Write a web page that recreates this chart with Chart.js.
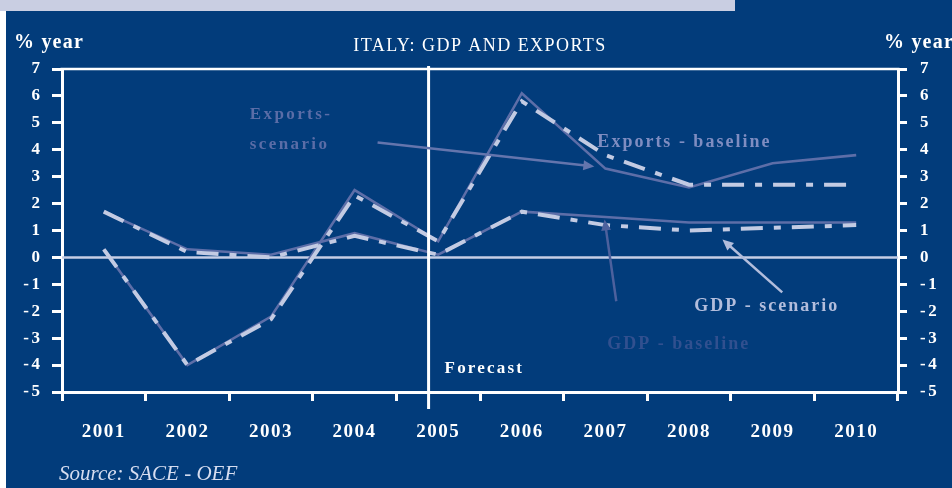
<!DOCTYPE html>
<html>
<head>
<meta charset="utf-8">
<script src="https://cdn.jsdelivr.net/npm/chart.js@4/dist/chart.umd.min.js"></script>
<style>
  html, body { margin: 0; padding: 0; background: #ffffff; }
  #wrap { position: relative; width: 952px; height: 488px; }
  canvas { display: block; }
</style>
</head>
<body>
<div id="wrap"><canvas id="c" width="952" height="488"></canvas></div>
<script>
// Italy: GDP and exports, % change per year
const years = ['2001', '2002', '2003', '2004', '2005', '2006', '2007', '2008', '2009', '2010'];
const exportsScenario = [0.3, -4.0, -2.2, 2.5, 0.6, 6.1, 3.3, 2.6, 3.5, 3.8];
const exportsBaseline = [0.3, -4.0, -2.3, 2.3, 0.6, 5.8, 3.8, 2.7, 2.7, 2.7];
const gdpBaseline = [1.7, 0.3, 0.1, 0.9, 0.1, 1.7, 1.5, 1.3, 1.3, 1.3];
const gdpScenario = [1.7, 0.2, 0.0, 0.8, 0.1, 1.7, 1.2, 1.0, 1.1, 1.2];
const yTicks = [-5, -4, -3, -2, -1, 0, 1, 2, 3, 4, 5, 6, 7];

const SERIF = '"Liberation Serif", "Times New Roman", serif';
const BG = '#023c7b';
const SOLID = '#5d6ea8';
const DASHED = '#c3cbe3';
const DASH = [22, 11, 7, 11];

// Annotation anchors in chart units: [category index, value]
const notes = {
  forecastAt: 3.885,
  texts: [
    { t: 'Exports-', at: [1.746, 5.16], color: '#5b6da7', size: 17, ls: 2.4 },
    { t: 'scenario', at: [1.746, 4.04], color: '#5b6da7', size: 17, ls: 2.4 },
    { t: 'Exports - baseline', at: [5.904, 4.12], color: '#7f8dc1', size: 18, ls: 2 },
    { t: 'GDP - scenario', at: [7.063, -1.99], color: '#b3bddc', size: 18, ls: 2 },
    { t: 'GDP - baseline', at: [6.023, -3.41], color: '#31508f', size: 18, ls: 2 },
    { t: 'Forecast', at: [4.076, -4.30], color: '#ffffff', size: 17, ls: 2.2 }
  ],
  arrows: [
    { from: [3.275, 4.27], to: [5.868, 3.38], color: '#6475ad', w: 2.5 },
    { from: [6.13, -1.63], to: [5.99, 1.41], color: '#4d619d', w: 2.5 },
    { from: [8.115, -1.30], to: [7.40, 0.67], color: '#b2bddc', w: 2.5 }
  ]
};

function drawArrow(ctx, x1, y1, x2, y2, color, w) {
  const a = Math.atan2(y2 - y1, x2 - x1);
  const head = 11, half = 5;
  ctx.save();
  ctx.strokeStyle = color;
  ctx.fillStyle = color;
  ctx.lineWidth = w;
  ctx.beginPath();
  ctx.moveTo(x1, y1);
  ctx.lineTo(x2 - head * 0.8 * Math.cos(a), y2 - head * 0.8 * Math.sin(a));
  ctx.stroke();
  const bx = x2 - head * Math.cos(a), by = y2 - head * Math.sin(a);
  ctx.beginPath();
  ctx.moveTo(x2, y2);
  ctx.lineTo(bx + half * Math.sin(a), by - half * Math.cos(a));
  ctx.lineTo(bx - half * Math.sin(a), by + half * Math.cos(a));
  ctx.closePath();
  ctx.fill();
  ctx.restore();
}

function text(ctx, t, x, y, font, color, ls, align) {
  ctx.save();
  ctx.font = font;
  ctx.fillStyle = color;
  ctx.letterSpacing = (ls || 0) + 'px';
  ctx.textAlign = align || 'left';
  ctx.textBaseline = 'alphabetic';
  ctx.fillText(t, x, y);
  ctx.restore();
}

// per-axis letter spacing for tick labels
function spaceLabels(scale, ls) {
  if (scale._spaced) return;
  const orig = scale.drawLabels.bind(scale);
  scale.drawLabels = function (area) {
    const ctx = this.ctx;
    const prev = ctx.letterSpacing;
    ctx.letterSpacing = ls;
    orig(area);
    ctx.letterSpacing = prev;
  };
  scale._spaced = true;
}

const decor = {
  id: 'decor',
  afterLayout(chart) {
    spaceLabels(chart.scales.x, '1.5px');
    spaceLabels(chart.scales.y, '2.5px');
    spaceLabels(chart.scales.y2, '2.5px');
  },
  beforeDraw(chart) {
    const ctx = chart.ctx;
    ctx.save();
    ctx.fillStyle = '#ffffff';
    ctx.fillRect(0, 0, chart.width, chart.height);
    ctx.fillStyle = BG;
    ctx.fillRect(6, 0, chart.width - 6, chart.height);
    ctx.fillStyle = '#c9cee2';
    ctx.fillRect(0, 0, 735, 11);
    ctx.restore();
  },
  beforeDatasetsDraw(chart) {
    const ctx = chart.ctx, a = chart.chartArea, y = chart.scales.y;
    const y0 = y.getPixelForValue(0);
    ctx.save();
    ctx.strokeStyle = '#c6cee6';
    ctx.lineWidth = 2.5;
    ctx.beginPath();
    ctx.moveTo(a.left, y0);
    ctx.lineTo(a.right, y0);
    ctx.stroke();
    ctx.restore();
  },
  afterDraw(chart) {
    const ctx = chart.ctx, a = chart.chartArea, sx = chart.scales.x, sy = chart.scales.y;
    ctx.save();
    // top frame line
    ctx.strokeStyle = '#ffffff';
    ctx.lineWidth = 2.5;
    ctx.beginPath();
    ctx.moveTo(a.left - 1.5, a.top);
    ctx.lineTo(a.right + 1.5, a.top);
    ctx.stroke();
    // forecast divider
    const fx = sx.getPixelForValue(notes.forecastAt);
    ctx.lineWidth = 3;
    ctx.beginPath();
    ctx.moveTo(fx, a.top - 3);
    ctx.lineTo(fx, a.bottom + 17);
    ctx.stroke();
    ctx.restore();

    notes.arrows.forEach(ar => {
      drawArrow(ctx, sx.getPixelForValue(ar.from[0]), sy.getPixelForValue(ar.from[1]),
        sx.getPixelForValue(ar.to[0]), sy.getPixelForValue(ar.to[1]), ar.color, ar.w);
    });
    notes.texts.forEach(n => {
      text(ctx, n.t, sx.getPixelForValue(n.at[0]), sy.getPixelForValue(n.at[1]),
        'bold ' + n.size + 'px ' + SERIF, n.color, n.ls);
    });

    text(ctx, 'ITALY: GDP AND EXPORTS', (a.left + a.right) / 2, 51, '18px ' + SERIF, '#ffffff', 1.45, 'center');
    text(ctx, '% year', 14, 48, 'bold 20px ' + SERIF, '#ffffff', 1.2);
    text(ctx, '% year', 884, 48, 'bold 20px ' + SERIF, '#ffffff', 1.2);
    text(ctx, 'Source: SACE - OEF', 59, 480, 'italic 21px ' + SERIF, '#d6ddf0', 0);
  }
};

const yAxisCommon = {
  type: 'linear',
  min: -5,
  max: 7,
  afterBuildTicks(s) { s.ticks = yTicks.map(v => ({ value: v })); },
  grid: { drawOnChartArea: false, drawTicks: true, color: '#ffffff', lineWidth: 3 },
  border: { display: true, color: '#ffffff', width: 3 },
  ticks: { color: '#ffffff', font: { family: SERIF, size: 17, weight: 'bold' } }
};

new Chart(document.getElementById('c'), {
  type: 'line',
  data: {
    labels: years,
    datasets: [
      { data: exportsBaseline, borderColor: DASHED, borderWidth: 4, borderDash: DASH, borderCapStyle: 'butt', yAxisID: 'y' },
      { data: gdpScenario, borderColor: DASHED, borderWidth: 4, borderDash: DASH, borderCapStyle: 'butt', yAxisID: 'y' },
      { data: exportsScenario, borderColor: SOLID, borderWidth: 2.6, yAxisID: 'y' },
      { data: gdpBaseline, borderColor: SOLID, borderWidth: 2.6, yAxisID: 'y' }
    ]
  },
  options: {
    responsive: false,
    animation: false,
    devicePixelRatio: 1,
    layout: { padding: { top: 69, left: 0, right: 0, bottom: 0 } },
    plugins: { legend: { display: false }, tooltip: { enabled: false }, title: { display: false } },
    elements: { point: { radius: 0 }, line: { tension: 0, fill: false } },
    scales: {
      x: {
        type: 'category',
        offset: true,
        grid: { offset: true, drawOnChartArea: false, drawTicks: true, tickLength: 9, color: '#ffffff', lineWidth: 3 },
        border: { display: true, color: '#ffffff', width: 3 },
        ticks: { color: '#ffffff', font: { family: SERIF, size: 19, weight: 'bold' }, padding: 20, maxRotation: 0, autoSkip: false },
        afterFit(s) { s.height = 96; }
      },
      y: Object.assign({}, yAxisCommon, {
        position: 'left',
        grid: Object.assign({}, yAxisCommon.grid, { tickLength: 10 }),
        ticks: Object.assign({}, yAxisCommon.ticks, { padding: 9.5 }),
        afterFit(s) { s.width = 62; }
      }),
      y2: Object.assign({}, yAxisCommon, {
        position: 'right',
        display: true,
        grid: Object.assign({}, yAxisCommon.grid, { tickLength: 9 }),
        ticks: Object.assign({}, yAxisCommon.ticks, { padding: 13 }),
        afterFit(s) { s.width = 54; }
      })
    }
  },
  plugins: [decor]
});
</script>
</body>
</html>
